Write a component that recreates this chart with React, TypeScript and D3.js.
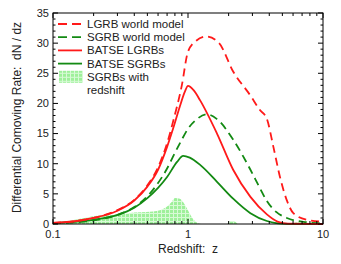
import { useEffect, useRef } from "react"
import * as d3 from "d3"

// LGRB world model (red dashed)
const lgrbModelZ = [0.1, 0.15, 0.2, 0.3, 0.4, 0.5, 0.6, 0.7, 0.78, 0.9, 1.0, 1.15, 1.37, 1.7, 2.16, 2.88, 3.41, 3.83, 4.29, 4.8, 5.38, 6.03, 7.6, 10]
const lgrbModelV = [0.2, 0.5, 1.0, 2.3, 4.0, 6.4, 9.4, 13.4, 17.2, 23, 28.6, 30.4, 31.1, 30, 25.3, 21.4, 18.9, 17.5, 12.8, 7.8, 4, 1.8, 0.7, 0.4]

// SGRB world model (green dashed)
const sgrbModelZ = [0.1, 0.15, 0.2, 0.3, 0.4, 0.5, 0.6, 0.7, 0.8, 0.9, 1.0, 1.15, 1.38, 1.64, 2.16, 2.9, 3.4, 3.84, 4.5, 5.4, 7.5, 10]
const sgrbModelV = [0.1, 0.3, 0.6, 1.5, 2.8, 4.6, 6.8, 9.2, 11.8, 14, 15.8, 17.3, 18.2, 17.4, 14, 9, 6, 3.8, 2, 1.0, 0.3, 0.1]

// BATSE LGRBs (red solid)
const batseLZ = [0.1, 0.15, 0.2, 0.3, 0.4, 0.5, 0.6, 0.7, 0.78, 0.87, 0.95, 1.0, 1.1, 1.23, 1.64, 2.16, 2.9, 3.84, 4.6, 5.5, 10]
const batseLV = [0.2, 0.5, 1.0, 2.2, 3.9, 6.2, 9.0, 12.8, 16, 19.5, 22, 22.9, 22.2, 20.5, 15, 9, 4.5, 1.6, 0.4, 0.05, 0]

// BATSE SGRBs (green solid)
const batseSZ = [0.1, 0.127, 0.15, 0.2, 0.3, 0.4, 0.5, 0.6, 0.7, 0.83, 0.92, 1.03, 1.23, 1.64, 2.16, 2.9, 3.84, 4.5, 5.5, 10]
const batseSV = [0.1, 0.3, 0.4, 0.7, 1.5, 2.7, 4.3, 6, 7.8, 10.3, 11.3, 11, 9.8, 7, 4.2, 1.8, 0.5, 0.15, 0.03, 0]

// SGRBs with redshift (hatched area)
const sgrbZZ = [0.1, 0.13, 0.17, 0.22, 0.3, 0.4, 0.49, 0.62, 0.7, 0.76, 0.8, 0.87, 0.93, 0.98, 1.1, 1.2, 1.3, 1.95, 2.05, 2.2, 2.35, 5.5, 6.5, 7.5, 8.5, 10]
const sgrbZV = [0.1, 0.5, 1.0, 1.4, 1.5, 1.9, 2.0, 2.3, 2.9, 3.7, 4.3, 4.2, 3.5, 2.6, 0.7, 0.1, 0, 0, 0.5, 0.5, 0, 0, 0.3, 0.1, 0.3, 0]

const xMajor = [0.1, 1, 10]
const xMajorLabels = ["0.1", "1", "10"]
const yMajor = [0, 5, 10, 15, 20, 25, 30, 35]

const RED = "#ff1a1a"
const GREEN = "#138a13"

export default function App() {
  const svgRef = useRef<SVGSVGElement>(null)

  useEffect(() => {
    const svg = d3.select(svgRef.current)
    svg.selectAll("*").remove()

    const margin = { top: 13, right: 18, bottom: 40, left: 53 }
    const width = 341
    const height = 264
    const innerW = width - margin.left - margin.right
    const innerH = height - margin.top - margin.bottom
    const font = "'Liberation Sans', Arial, sans-serif"

    const x = d3.scaleLog().domain([0.1, 10]).range([0, innerW])
    const y = d3.scaleLinear().domain([0, 35]).range([innerH, 0])

    // hatch pattern
    const defs = svg.append("defs")
    const pat = defs.append("pattern")
      .attr("id", "hatch")
      .attr("patternUnits", "userSpaceOnUse")
      .attr("width", 4)
      .attr("height", 4)
    pat.append("rect").attr("width", 4).attr("height", 4).attr("fill", "#9ef09a")
    pat.append("rect").attr("x", 0).attr("y", 0).attr("width", 4).attr("height", 1).attr("fill", "#d8fad6")
    pat.append("rect").attr("x", 0).attr("y", 0).attr("width", 1).attr("height", 4).attr("fill", "#d8fad6")

    const g = svg.append("g").attr("transform", `translate(${margin.left},${margin.top})`)

    const line = d3.line<[number, number]>()
      .x(d => x(d[0]))
      .y(d => y(d[1]))
      .curve(d3.curveMonotoneX)

    const area = d3.area<[number, number]>()
      .x(d => x(d[0]))
      .y0(y(0))
      .y1(d => y(d[1]))
      .curve(d3.curveMonotoneX)

    const zip = (a: number[], b: number[]) => a.map((v, i) => [v, b[i]] as [number, number])

    g.append("path")
      .datum(zip(sgrbZZ, sgrbZV))
      .attr("d", area)
      .attr("fill", "url(#hatch)")

    const series = [
      { z: batseSZ, v: batseSV, color: GREEN, dash: null },
      { z: sgrbModelZ, v: sgrbModelV, color: GREEN, dash: "8,5" },
      { z: batseLZ, v: batseLV, color: RED, dash: null },
      { z: lgrbModelZ, v: lgrbModelV, color: RED, dash: "8,5" },
    ]
    series.forEach(s => {
      g.append("path")
        .datum(zip(s.z, s.v))
        .attr("d", line)
        .attr("fill", "none")
        .attr("stroke", s.color)
        .attr("stroke-width", 1.8)
        .attr("stroke-dasharray", s.dash)
    })

    // frame
    g.append("rect")
      .attr("width", innerW)
      .attr("height", innerH)
      .attr("fill", "none")
      .attr("stroke", "#000")
      .attr("stroke-width", 1)

    // x ticks (inside, top and bottom)
    const xMinor: number[] = []
    ;[0.1, 1].forEach(dec => { for (let k = 2; k <= 9; k++) xMinor.push(dec * k) })
    const tickG = g.append("g").attr("stroke", "#000").attr("stroke-width", 1)
    xMajor.forEach(t => {
      tickG.append("line").attr("x1", x(t)).attr("x2", x(t)).attr("y1", innerH).attr("y2", innerH - 5)
      tickG.append("line").attr("x1", x(t)).attr("x2", x(t)).attr("y1", 0).attr("y2", 5)
    })
    xMinor.forEach(t => {
      tickG.append("line").attr("x1", x(t)).attr("x2", x(t)).attr("y1", innerH).attr("y2", innerH - 3)
      tickG.append("line").attr("x1", x(t)).attr("x2", x(t)).attr("y1", 0).attr("y2", 3)
    })
    d3.range(0, 36).forEach(t => {
      const len = t % 5 === 0 ? 5 : 2.5
      tickG.append("line").attr("x1", 0).attr("x2", len).attr("y1", y(t)).attr("y2", y(t))
      tickG.append("line").attr("x1", innerW).attr("x2", innerW - len).attr("y1", y(t)).attr("y2", y(t))
    })

    // tick labels
    xMajor.forEach((t, i) => {
      g.append("text")
        .attr("x", x(t))
        .attr("y", innerH + 14)
        .attr("text-anchor", "middle")
        .style("font-family", font)
        .style("font-size", "11px")
        .attr("fill", "#222")
        .text(xMajorLabels[i])
    })
    yMajor.forEach(t => {
      g.append("text")
        .attr("x", -4)
        .attr("y", y(t))
        .attr("dy", "0.35em")
        .attr("text-anchor", "end")
        .style("font-family", font)
        .style("font-size", "11px")
        .attr("fill", "#222")
        .text(t)
    })

    // axis titles
    g.append("text")
      .attr("x", innerW / 2)
      .attr("y", innerH + 29)
      .attr("text-anchor", "middle")
      .style("font-family", font)
      .style("font-size", "12px")
      .attr("fill", "#222")
      .attr("xml:space", "preserve")
      .text("Redshift:  z")

    g.append("text")
      .attr("transform", `translate(-32,${innerH / 2 - 1}) rotate(-90)`)
      .attr("text-anchor", "middle")
      .style("font-family", font)
      .style("font-size", "12px")
      .attr("fill", "#222")
      .attr("xml:space", "preserve")
      .text("Differential Comoving Rate:  dN / dz")

    // legend
    const legend = g.append("g").attr("transform", "translate(5,11)")
    const items = [
      { label: "LGRB world model", color: RED, dash: "9,5" },
      { label: "SGRB world model", color: GREEN, dash: "9,5" },
      { label: "BATSE LGRBs", color: RED, dash: null },
      { label: "BATSE SGRBs", color: GREEN, dash: null },
    ]
    const rowH = 13.2
    items.forEach((it, i) => {
      const row = legend.append("g").attr("transform", `translate(0,${i * rowH})`)
      row.append("line")
        .attr("x1", 0).attr("x2", 24).attr("y1", 0).attr("y2", 0)
        .attr("stroke", it.color)
        .attr("stroke-width", 1.8)
        .attr("stroke-dasharray", it.dash)
      row.append("text")
        .attr("x", 29)
        .attr("y", 0)
        .attr("dy", "0.35em")
        .style("font-family", font)
        .style("font-size", "11.5px")
        .attr("fill", "#222")
        .text(it.label)
    })
    const hatchRow = legend.append("g").attr("transform", `translate(0,${4 * rowH})`)
    hatchRow.append("rect")
      .attr("x", 1).attr("y", -6).attr("width", 24).attr("height", 12)
      .attr("fill", "url(#hatch)")
    hatchRow.append("text")
      .attr("x", 29).attr("y", 0).attr("dy", "0.35em")
      .style("font-family", font).style("font-size", "11.5px").attr("fill", "#222")
      .text("SGRBs with")
    hatchRow.append("text")
      .attr("x", 29).attr("y", rowH).attr("dy", "0.35em")
      .style("font-family", font).style("font-size", "11.5px").attr("fill", "#222")
      .text("redshift")
  }, [])

  return (
    <svg
      ref={svgRef}
      width={341}
      height={264}
      style={{ position: "absolute", left: 0, top: 0, background: "#fff" }}
    />
  )
}
